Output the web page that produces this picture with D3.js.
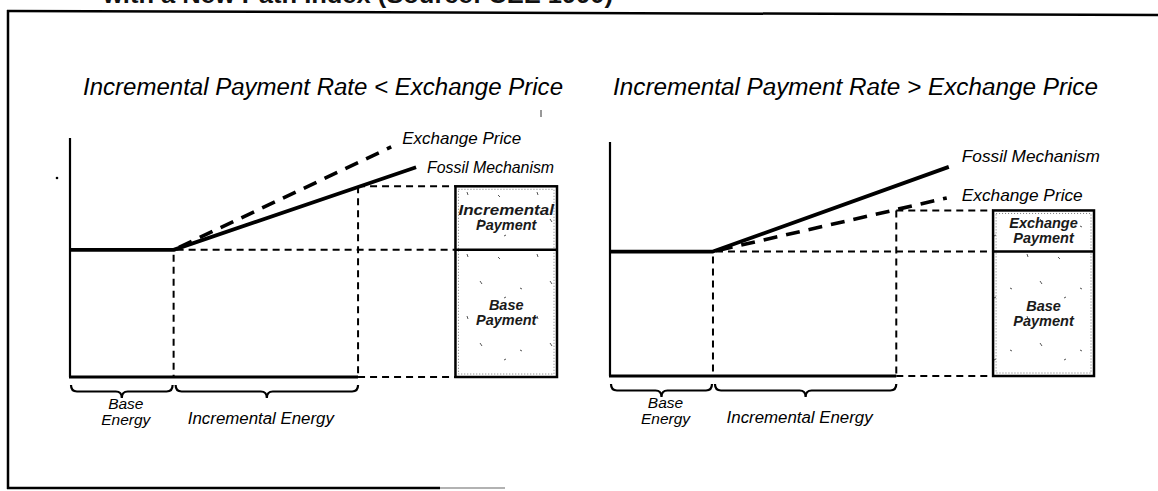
<!DOCTYPE html>
<html>
<head>
<meta charset="utf-8">
<script src="https://cdn.jsdelivr.net/npm/d3@7"></script>
<style>
  html, body { margin: 0; padding: 0; background: #fff; }
  svg { display: block; }
</style>
</head>
<body>
<svg id="chart" width="1158" height="491"></svg>
<script>
// ---------------- DATA ----------------
const headerText = "with a New Path Index (Source: CEE 1990)";
const panelTitles = [
  "Incremental Payment Rate < Exchange Price",
  "Incremental Payment Rate > Exchange Price"
];
// energy axis: base energy ends at 1, incremental energy ends at 2.78
const energyBreaks = [0, 1, 2.78];
const energyLabels = [["Base", "Energy"], ["Incremental Energy"]];
// payment bar (box) position on the energy axis
const paymentBar = [3.72, 4.7];
// price level of base payment
const basePrice = [1, 1];
// fossil mechanism line (energy, price)
const fossilLine = [
  [[0, 1], [1, 1], [3.34, 1.65]],
  [[0, 1], [1, 1], [3.29, 1.68]]
];
// exchange price line
const exchangeLine = [
  [[1, 1], [3.10, 1.81]],
  [[1, 1], [3.27, 1.43]]
];
// top of incremental / exchange payment at end of incremental energy
const paymentTop = [1.50, 1.33];
const boxUpperLabels = [["Incremental", "Payment"], ["Exchange", "Payment"]];
const boxLowerLabels = [["Base", "Payment"], ["Base", "Payment"]];
const seriesNames = ["Fossil Mechanism", "Exchange Price"];

// ---------------- LAYOUT (styles / positions) ----------------
const panels = [
  { x0: 70, x1: 557, yBottom: 377, yTop: 138, titleX: 83, titleW: 480,
    fossilLab: [11, 6, 127], exchLab: [11, -3, 119] },
  { x0: 610, x1: 1094, yBottom: 376, yTop: 142, titleX: 613, titleW: 485,
    fossilLab: [13, -5, 138], exchLab: [15, 3, 121] }
];
const yMax = 1.88;

const svg = d3.select("#chart");
const defs = svg.append("defs");

// sparse speckle texture for payment boxes
const pat = defs.append("pattern").attr("id", "speckle")
  .attr("width", 70).attr("height", 62).attr("patternUnits", "userSpaceOnUse");
pat.append("rect").attr("width", 70).attr("height", 62).attr("fill", "#fff");
[[8,9,10,11],[47,6,48,9],[30,40,32,41],[60,33,62,36],[14,50,16,49]].forEach(s => {
  pat.append("line").attr("x1", s[0]).attr("y1", s[1]).attr("x2", s[2]).attr("y2", s[3])
    .attr("stroke", "#555").attr("stroke-width", 1);
});

// ---------- frame & header ----------
svg.append("line").attr("x1", 8).attr("y1", 10).attr("x2", 8).attr("y2", 489)
  .attr("stroke", "#000").attr("stroke-width", 2.5);
svg.append("line").attr("x1", 7).attr("y1", 11).attr("x2", 1158).attr("y2", 15)
  .attr("stroke", "#000").attr("stroke-width", 2.5);
svg.append("line").attr("x1", 7).attr("y1", 488).attr("x2", 440).attr("y2", 488)
  .attr("stroke", "#000").attr("stroke-width", 2.5);
svg.append("line").attr("x1", 440).attr("y1", 488).attr("x2", 505).attr("y2", 488)
  .attr("stroke", "#999").attr("stroke-width", 1.5);

svg.append("text").attr("x", 103).attr("y", 3)
  .attr("font-family", "Liberation Sans, Arial, sans-serif")
  .attr("font-weight", "bold").attr("font-size", 24)
  .attr("textLength", 510).attr("lengthAdjust", "spacingAndGlyphs")
  .attr("fill", "#111").text(headerText);

// small stray marks in the scan
svg.append("circle").attr("cx", 57).attr("cy", 178).attr("r", 1.3).attr("fill", "#000");
svg.append("line").attr("x1", 541).attr("y1", 110).attr("x2", 541).attr("y2", 117)
  .attr("stroke", "#333").attr("stroke-width", 1);

function bracePath(x1, x2, y, h) {
  const xm = (x1 + x2) / 2, r = 6;
  return `M${x1},${y} Q${x1},${y + h * 0.5} ${x1 + r},${y + h * 0.5} ` +
         `L${xm - r},${y + h * 0.5} Q${xm},${y + h * 0.5} ${xm},${y + h} ` +
         `Q${xm},${y + h * 0.5} ${xm + r},${y + h * 0.5} ` +
         `L${x2 - r},${y + h * 0.5} Q${x2},${y + h * 0.5} ${x2},${y}`;
}

panels.forEach((p, i) => {
  const x = d3.scaleLinear().domain([0, paymentBar[1]]).range([p.x0, p.x1]);
  const y = d3.scaleLinear().domain([0, yMax]).range([p.yBottom, p.yTop]);
  const g = svg.append("g");
  const font = "Liberation Sans, Arial, Helvetica, sans-serif";

  // title
  g.append("text").attr("x", p.titleX).attr("y", 95)
    .attr("font-family", font).attr("font-style", "italic").attr("font-size", 23.5)
    .attr("textLength", p.titleW).attr("lengthAdjust", "spacingAndGlyphs")
    .attr("fill", "#000").text(panelTitles[i]);

  const guide = (x1, y1, x2, y2) => g.append("line")
    .attr("x1", x1).attr("y1", y1).attr("x2", x2).attr("y2", y2)
    .attr("stroke", "#000").attr("stroke-width", 2).attr("stroke-dasharray", "7,5");

  const eB = energyBreaks;
  // dashed guides
  guide(x(eB[1]), y(basePrice[i]) + 5, x(eB[1]), y(0));
  guide(x(eB[2]), y(paymentTop[i]), x(eB[2]), y(0));
  guide(x(eB[1]) + 3, y(basePrice[i]), x(paymentBar[0]), y(basePrice[i]));
  guide(x(eB[2]), y(paymentTop[i]), x(paymentBar[0]), y(paymentTop[i]));
  guide(x(eB[2]), y(0), x(paymentBar[0]), y(0));

  // payment box
  const bx = x(paymentBar[0]), bw = x(paymentBar[1]) - x(paymentBar[0]);
  g.append("rect").attr("x", bx).attr("y", y(paymentTop[i]))
    .attr("width", bw).attr("height", y(0) - y(paymentTop[i]))
    .attr("fill", "url(#speckle)").attr("stroke", "#000").attr("stroke-width", 2.5);
  g.append("rect").attr("x", bx + 3).attr("y", y(paymentTop[i]) + 3)
    .attr("width", bw - 6).attr("height", y(0) - y(paymentTop[i]) - 6)
    .attr("fill", "none").attr("stroke", "#777").attr("stroke-width", 1)
    .attr("stroke-dasharray", "1,2");
  g.append("line").attr("x1", bx).attr("x2", bx + bw)
    .attr("y1", y(basePrice[i])).attr("y2", y(basePrice[i]))
    .attr("stroke", "#000").attr("stroke-width", 2.5);

  const boxText = (lines, cy) => lines.forEach((t, k) => {
    const tx = g.append("text").attr("x", bx + bw / 2).attr("y", cy + k * 15)
      .attr("text-anchor", "middle").attr("font-family", font)
      .attr("font-weight", "bold").attr("font-style", "italic")
      .attr("font-size", 14.5).attr("fill", "#1a1a1a").text(t);
    if (t.length > 9) tx.attr("textLength", bw - 6).attr("lengthAdjust", "spacingAndGlyphs");
  });
  const upMid = (y(paymentTop[i]) + y(basePrice[i])) / 2;
  const loMid = (y(basePrice[i]) + y(0)) / 2;
  boxText(boxUpperLabels[i], upMid - 3);
  boxText(boxLowerLabels[i], loMid - 3);

  // axes
  g.append("line").attr("x1", x(0)).attr("x2", x(0)).attr("y1", y(yMax)).attr("y2", y(0))
    .attr("stroke", "#000").attr("stroke-width", 2.2);
  g.append("line").attr("x1", x(0) - 1).attr("x2", x(eB[2])).attr("y1", y(0)).attr("y2", y(0))
    .attr("stroke", "#000").attr("stroke-width", 3);

  // exchange price (dashed)
  const line = d3.line().x(d => x(d[0])).y(d => y(d[1]));
  g.append("path").attr("d", line(exchangeLine[i]))
    .attr("fill", "none").attr("stroke", "#000").attr("stroke-width", 3.6)
    .attr("stroke-dasharray", "14,9").attr("stroke-dashoffset", -6);
  // fossil mechanism (solid)
  g.append("path").attr("d", line(fossilLine[i]))
    .attr("fill", "none").attr("stroke", "#000").attr("stroke-width", 3.8)
    .attr("stroke-linejoin", "round");

  // line labels
  const fEnd = fossilLine[i][fossilLine[i].length - 1];
  const eEnd = exchangeLine[i][exchangeLine[i].length - 1];
  g.append("text").attr("x", x(fEnd[0]) + p.fossilLab[0]).attr("y", y(fEnd[1]) + p.fossilLab[1])
    .attr("font-family", font).attr("font-style", "italic").attr("font-size", 16.5)
    .attr("textLength", p.fossilLab[2]).attr("lengthAdjust", "spacingAndGlyphs")
    .attr("fill", "#000").text(seriesNames[0]);
  g.append("text").attr("x", x(eEnd[0]) + p.exchLab[0]).attr("y", y(eEnd[1]) + p.exchLab[1])
    .attr("font-family", font).attr("font-style", "italic").attr("font-size", 16.5)
    .attr("textLength", p.exchLab[2]).attr("lengthAdjust", "spacingAndGlyphs")
    .attr("fill", "#000").text(seriesNames[1]);

  // braces
  const by = y(0) + 8;
  g.append("path").attr("d", bracePath(x(eB[0]) + 1, x(eB[1]) - 1, by, 13))
    .attr("fill", "none").attr("stroke", "#000").attr("stroke-width", 2.2);
  g.append("path").attr("d", bracePath(x(eB[1]) + 2, x(eB[2]), by, 13))
    .attr("fill", "none").attr("stroke", "#000").attr("stroke-width", 2.2);

  // energy labels
  const cx0 = (x(eB[0]) + x(eB[1])) / 2 + 4;
  energyLabels[0].forEach((t, k) => {
    g.append("text").attr("x", cx0).attr("y", y(0) + 32 + k * 16)
      .attr("text-anchor", "middle").attr("font-family", font)
      .attr("font-style", "italic").attr("font-size", 15.5).attr("fill", "#000").text(t);
  });
  const cx1 = (x(eB[1]) + x(eB[2])) / 2 - 5;
  g.append("text").attr("x", cx1).attr("y", y(0) + 47)
    .attr("text-anchor", "middle").attr("font-family", font)
    .attr("font-style", "italic").attr("font-size", 16)
    .attr("textLength", 146).attr("lengthAdjust", "spacingAndGlyphs")
    .attr("fill", "#000").text(energyLabels[1][0]);
});
</script>
</body>
</html>
